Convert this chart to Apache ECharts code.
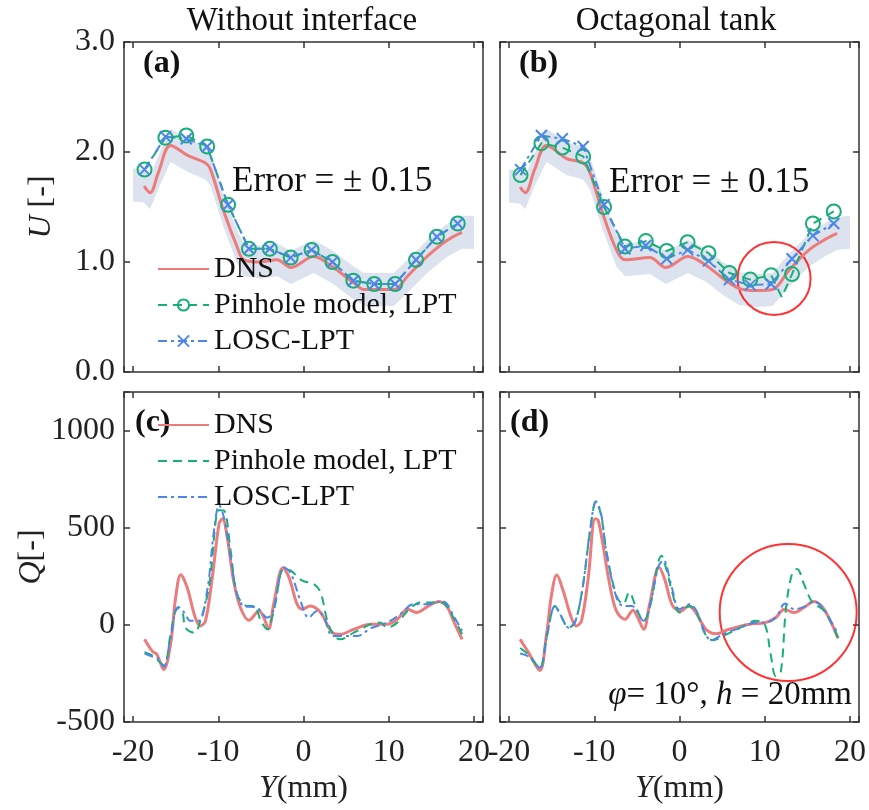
<!DOCTYPE html>
<html>
<head>
<meta charset="utf-8">
<script src="https://cdn.jsdelivr.net/npm/echarts@6/dist/echarts.min.js"></script>
<style>
  html, body { margin: 0; padding: 0; background: #fff; }
  #chart { width: 869px; height: 810px; }
</style>
</head>
<body>
<div id="chart"></div>
<script>
// --- data ---
const errU = 0.15

// (a) without interface, U
const dnsAX = [-18.7, -18.0, -17.0, -15.6, -13.6, -11.5, -10.9, -9.4, -7.8, -7.0, -5.0, -3.1, -1.5, 1.2, 3.5, 5.9, 7.1, 10.6, 12.2, 14.5, 16.9, 18.6]
const dnsAY = [1.69, 1.63, 1.82, 2.06, 1.97, 1.90, 1.84, 1.47, 1.14, 1.02, 1.00, 1.02, 0.95, 1.05, 0.95, 0.81, 0.75, 0.75, 0.87, 1.05, 1.20, 1.27]
const bandAX = [-20, -18.7, -18.0, -17.0, -15.6, -13.6, -11.5, -10.9, -9.4, -7.8, -7.0, -5.0, -3.1, -1.5, 1.2, 3.5, 5.9, 7.1, 10.6, 12.2, 14.5, 16.9, 18.6, 20]
const bandAY = [1.70, 1.69, 1.63, 1.82, 2.06, 1.97, 1.90, 1.84, 1.47, 1.14, 1.02, 1.00, 1.02, 0.95, 1.05, 0.95, 0.81, 0.75, 0.75, 0.87, 1.05, 1.20, 1.27, 1.27]
const markerX = [-18.65, -16.2, -13.75, -11.3, -8.85, -6.4, -3.95, -1.5, 0.95, 3.4, 5.85, 8.3, 10.75, 13.2, 15.65, 18.1]
const pinholeA = [1.84, 2.13, 2.15, 2.05, 1.52, 1.12, 1.12, 1.04, 1.11, 1.00, 0.83, 0.80, 0.80, 1.02, 1.23, 1.35]
const loscA = [1.84, 2.14, 2.12, 2.05, 1.52, 1.12, 1.12, 1.04, 1.11, 1.00, 0.83, 0.80, 0.80, 1.02, 1.23, 1.35]

// (b) octagonal tank, U
const dnsBX = [-18.7, -18.1, -17.0, -15.6, -13.25, -11.3, -10.5, -9.0, -7.4, -6.4, -3.5, -1.6, 1.0, 3.1, 5.1, 7.0, 9.0, 10.9, 12.9, 15.2, 17.2, 18.5]
const dnsBY = [1.68, 1.63, 1.84, 2.06, 1.94, 1.90, 1.81, 1.44, 1.11, 1.02, 1.04, 0.95, 1.05, 0.97, 0.85, 0.76, 0.74, 0.75, 0.93, 1.11, 1.21, 1.26]
const bandBX = [-20, -18.7, -18.1, -17.0, -15.6, -13.25, -11.3, -10.5, -9.0, -7.4, -6.4, -3.5, -1.6, 1.0, 3.1, 5.1, 7.0, 9.0, 10.9, 12.9, 15.2, 17.2, 18.5, 20]
const bandBY = [1.69, 1.68, 1.63, 1.84, 2.06, 1.94, 1.90, 1.81, 1.44, 1.11, 1.02, 1.04, 0.95, 1.05, 0.97, 0.85, 0.76, 0.74, 0.75, 0.93, 1.11, 1.21, 1.26, 1.27]
const pinholeB = [1.79, 2.08, 2.04, 1.96, 1.50, 1.14, 1.19, 1.10, 1.18, 1.08, 0.90, 0.84, 0.88, 0.89, 1.35, 1.46]
const pinholeBDipX = 12.0   // dip of the dashed line between two circles
const pinholeBDipY = 0.68
const loscB = [1.84, 2.15, 2.12, 2.05, 1.52, 1.12, 1.15, 1.03, 1.11, 1.01, 0.84, 0.79, 0.80, 1.03, 1.24, 1.35]
const circleB = [11.1, 0.85]

// (c) without interface, Q
const qDnsCX = [-18.65, -17.75, -17.2, -16.4, -15.6, -15.0, -14.4, -13.65, -12.7, -12.1, -11.5, -10.7, -9.9, -9.5, -8.95, -8.2, -7.4, -6.4, -5.2, -4.65, -4.1, -3.5, -2.4, -1.7, -0.75, -0.15, 0.8, 2.0, 3.4, 4.3, 5.9, 7.9, 9.8, 11.0, 12.2, 13.3, 14.5, 15.9, 16.85, 17.6, 18.6]
const qDnsCY = [-74, -135, -152, -230, -100, 141, 259, 193, 38, -5, 21, 245, 522, 547, 452, 228, 90, 24, 72, 38, -22, 107, 294, 245, 107, 81, 98, 64, -40, -48, -22, 4, 4, 29, 81, 64, 93, 121, 93, 21, -74]
const qPinCX = [-18.65, -17.75, -16.4, -15.6, -14.8, -14.2, -13.85, -12.8, -12.1, -11.1, -9.9, -9.35, -8.55, -7.8, -6.6, -5.8, -5.0, -4.25, -3.5, -2.3, -1.5, -0.15, 1.2, 2.0, 2.8, 3.6, 4.3, 5.9, 7.9, 9.0, 9.8, 11.0, 12.6, 13.75, 15.7, 16.6, 17.6, 18.6]
const qPinCY = [-140, -157, -206, -50, 84, 64, -14, -40, 21, 193, 591, 590, 383, 159, 98, 98, 21, -22, 72, 287, 280, 228, 211, 168, 21, -57, -74, -40, 4, 12, -14, 12, 90, 116, 116, 107, 38, -48]
const qLoscCX = [-18.65, -17.75, -17.1, -16.4, -15.6, -14.7, -14.0, -13.25, -12.3, -11.3, -10.5, -9.9, -9.35, -8.55, -7.8, -7.0, -5.5, -4.25, -3.5, -2.3, -1.5, -0.35, 0.6, 1.6, 2.4, 3.4, 4.3, 6.3, 7.9, 9.8, 11.35, 12.9, 14.5, 16.4, 17.6, 18.6]
const qLoscCY = [-147, -163, -172, -215, -66, 93, 64, 21, 21, 176, 487, 617, 556, 349, 159, 98, 90, 38, 81, 297, 266, 124, 38, 72, 38, -57, -57, -57, -17, 12, 55, 107, 107, 121, 47, -31]

// (d) octagonal tank, Q
const qDnsDX = [-18.7, -17.7, -16.4, -15.6, -15.0, -14.4, -13.65, -12.7, -12.1, -11.5, -10.7, -9.9, -9.55, -9.0, -8.2, -7.4, -6.4, -5.45, -4.9, -4.2, -3.5, -2.4, -1.75, -0.8, 0.2, 1.0, 1.8, 3.1, 4.3, 5.8, 8.2, 10.1, 11.3, 12.3, 13.45, 14.6, 15.8, 16.8, 17.7, 18.6]
const qDnsDY = [-74, -143, -235, -48, 159, 257, 176, 38, -5, 21, 245, 547, 539, 418, 211, 72, 29, 76, 38, -22, 107, 297, 237, 98, 72, 98, 72, -22, -45, -22, 4, 12, 38, 81, 64, 90, 121, 90, 21, -69]
const qPinDX = [-18.7, -17.7, -16.4, -15.6, -14.6, -14.0, -13.0, -12.2, -11.3, -10.5, -9.8, -9.2, -8.6, -7.4, -6.6, -5.9, -5.1, -4.2, -3.5, -2.1, -1.5, -0.8, 0.0, 1.2, 2.0, 3.0, 3.9, 5.1, 7.0, 9.0, 10.0, 10.7, 11.3, 11.9, 12.5, 13.25, 13.8, 14.6, 15.6, 16.8, 17.5, 18.6]
const qPinDY = [-119, -154, -220, -66, 98, 55, -14, 21, 211, 480, 633, 565, 383, 150, 107, 168, 90, 21, 90, 357, 280, 159, 64, 98, 64, -45, -79, -57, -17, 21, 4, -152, -264, -238, 90, 271, 288, 211, 116, 81, 38, -66]
const qLoscDX = [-18.7, -17.7, -16.4, -15.6, -14.6, -14.0, -13.0, -12.2, -11.3, -10.5, -9.8, -9.2, -8.6, -7.4, -6.6, -5.6, -4.2, -3.5, -2.5, -1.9, -0.9, 0.0, 1.2, 2.0, 2.9, 3.7, 5.1, 7.0, 9.0, 10.1, 11.3, 12.4, 13.45, 14.6, 15.8, 16.8, 17.5, 18.6]
const qLoscDY = [-147, -163, -220, -66, 98, 55, -14, 21, 211, 487, 637, 573, 383, 141, 98, 98, 21, 90, 297, 335, 193, 81, 107, 72, -31, -79, -48, -17, 12, 12, 38, 110, 81, 93, 121, 90, 38, -45]
const circleD = [12.75, 64]

const xTicks = [-20, -10, 0, 10, 20]
const uTicks = [0, 1, 2, 3]
const qTicks = [-500, 0, 500, 1000]

// --- styling ---
const font = 'Liberation Serif'
const red = '#ec7b7b'
const green = '#17ae78'
const blue = '#4c86e9'
const bandColor = '#dce3ee'
const axisColor = '#333'

const chart = echarts.init(document.getElementById('chart'))

const pairs = (xs, ys) => xs.map((x, i) => [x, ys[i]])

const grids = [
  { left: 124, top: 42, width: 359, height: 330 },
  { left: 500, top: 42, width: 359, height: 330 },
  { left: 124, top: 392, width: 359, height: 330 },
  { left: 500, top: 392, width: 359, height: 330 }
]

const labelStyle = { fontFamily: font, fontSize: 32, color: '#222' }

function xAxis(gridIndex, position, showLabel, name) {
  return {
    type: 'value', gridIndex, position, min: -21.06, max: 21.06, splitNumber: 4,
    axisLine: { show: true, onZero: false, lineStyle: { color: axisColor, width: 1.5 } },
    axisTick: { show: true, inside: true, length: 6, lineStyle: { color: axisColor, width: 1.5 } },
    splitLine: { show: false },
    axisLabel: {
      show: showLabel, margin: 15, ...labelStyle,
      formatter: v => (xTicks.includes(v) ? String(v) : '')
    },
    name: name || '', nameLocation: 'middle', nameGap: 51,
    nameTextStyle: { ...labelStyle, rich: { i: { ...labelStyle, fontStyle: 'italic' } } }
  }
}

function yAxis(gridIndex, position, showLabel, isU, name) {
  return {
    type: 'value', gridIndex, position,
    min: isU ? 0 : -500, max: isU ? 3 : 1200, interval: isU ? 1 : 500,
    axisLine: { show: true, onZero: false, lineStyle: { color: axisColor, width: 1.5 } },
    axisTick: { show: true, inside: true, length: 6, lineStyle: { color: axisColor, width: 1.5 } },
    splitLine: { show: false },
    axisLabel: {
      show: showLabel, margin: 9, ...labelStyle,
      formatter: v => {
        const ticks = isU ? uTicks : qTicks
        if (!ticks.includes(v)) return ''
        return isU ? v.toFixed(1) : String(v)
      }
    },
    name: name || '', nameLocation: 'middle', nameGap: 66, nameRotate: 90,
    nameTextStyle: { ...labelStyle, rich: { i: { ...labelStyle, fontStyle: 'italic' } } }
  }
}

function band(idx, xs, mids) {
  return {
    type: 'custom', xAxisIndex: idx, yAxisIndex: idx, silent: true,
    data: pairs(xs, mids),
    renderItem(params, api) {
      if (params.dataIndex !== 0) return null
      const upper = xs.map((x, i) => api.coord([x, mids[i] + errU]))
      const lower = xs.map((x, i) => api.coord([x, mids[i] - errU])).reverse()
      return { type: 'polygon', shape: { points: upper.concat(lower) }, style: { fill: bandColor } }
    }
  }
}

function dnsLine(idx, name, xs, ys) {
  return {
    type: 'line', name, xAxisIndex: idx, yAxisIndex: idx, data: pairs(xs, ys),
    smooth: 0.35, symbol: 'none', lineStyle: { color: red, width: 3 }, itemStyle: { color: red }
  }
}

const crossPath = 'path://M0,0L10,10M10,0L0,10'

function pinholeLine(idx, name, data, marked) {
  const s = {
    type: 'line', name, xAxisIndex: idx, yAxisIndex: idx, data,
    lineStyle: { color: green, width: 2, type: [9, 6] },
    itemStyle: { color: green }
  }
  if (marked) {
    Object.assign(s, {
      symbol: 'circle', symbolSize: 14, showAllSymbol: true,
      itemStyle: { color: 'rgba(255,255,255,0)', borderColor: green, borderWidth: 2 }
    })
  } else {
    Object.assign(s, { smooth: 0.35, symbol: 'none' })
  }
  return s
}

function loscLine(idx, name, data, marked) {
  const s = {
    type: 'line', name, xAxisIndex: idx, yAxisIndex: idx, data,
    lineStyle: { color: blue, width: 2, type: [9, 4, 3, 4] },
    itemStyle: { color: blue }
  }
  if (marked) {
    Object.assign(s, {
      symbol: crossPath, symbolSize: 11, showAllSymbol: true,
      itemStyle: { color: 'rgba(255,255,255,0)', borderColor: blue, borderWidth: 2 }
    })
  } else {
    Object.assign(s, { smooth: 0.35, symbol: 'none' })
  }
  return s
}

function ring(idx, point, size) {
  return {
    type: 'scatter', xAxisIndex: idx, yAxisIndex: idx, silent: true, data: [point],
    symbol: 'circle', symbolSize: size,
    itemStyle: { color: 'rgba(255,255,255,0)', borderColor: '#ff0000', borderWidth: 2 }
  }
}

// pinhole (b): circles plus one unmarked dip point
const pinBData = pairs(markerX, pinholeB)
const dipAt = markerX.findIndex(x => x > pinholeBDipX)
pinBData.splice(dipAt, 0, { value: [pinholeBDipX, pinholeBDipY], symbol: 'none' })

const names = ['DNS', 'Pinhole model, LPT', 'LOSC-LPT']
const namesQ = names.map(n => n + ' ')   // separate legend entries for the Q panels

// plain lines in the legend: hide the symbol for series without markers
const noMark = { opacity: 0 }
const legendTop = [{ name: names[0], itemStyle: noMark }, { name: names[1] }, { name: names[2] }]
const legendBottom = namesQ.map(n => ({ name: n, itemStyle: noMark }))

const legendText = { fontFamily: font, fontSize: 30, color: '#111', lineHeight: 30 }

const titleText = { fontFamily: font, fontSize: 33, fontWeight: 'normal', color: '#111' }
const tagStyle = { fontFamily: font, fontSize: 32, fontWeight: 'bold', fill: '#111', verticalAlign: 'middle' }

const option = {
  animation: false,
  backgroundColor: '#fff',
  title: [
    { text: 'Without interface', left: 297, top: 0, textAlign: 'center', textStyle: titleText },
    { text: 'Octagonal tank', left: 671, top: 0, textAlign: 'center', textStyle: titleText }
  ],
  grid: grids,
  xAxis: [
    xAxis(0, 'bottom', false), xAxis(1, 'bottom', false),
    xAxis(2, 'bottom', true, '{i|Y}(mm)'), xAxis(3, 'bottom', true, '{i|Y}(mm)'),
    xAxis(0, 'top', false), xAxis(1, 'top', false), xAxis(2, 'top', false), xAxis(3, 'top', false)
  ],
  yAxis: [
    yAxis(0, 'left', true, true, '{i|U} [-]'), yAxis(1, 'left', false, true),
    yAxis(2, 'left', true, false, '{i|Q}[-]'), yAxis(3, 'left', false, false),
    yAxis(0, 'right', false, true), yAxis(1, 'right', false, true),
    yAxis(2, 'right', false, false), yAxis(3, 'right', false, false)
  ],
  legend: [
    {
      data: legendTop, orient: 'vertical', left: 152, top: 249, itemWidth: 51, itemHeight: 14,
      itemGap: 6, selectedMode: false, textStyle: legendText
    },
    {
      data: legendBottom, orient: 'vertical', left: 152, top: 405, itemWidth: 51, itemHeight: 14,
      itemGap: 6, selectedMode: false, textStyle: legendText
    }
  ],
  series: [
    band(0, bandAX, bandAY),
    dnsLine(0, names[0], dnsAX, dnsAY),
    pinholeLine(0, names[1], pairs(markerX, pinholeA), true),
    loscLine(0, names[2], pairs(markerX, loscA), true),

    band(1, bandBX, bandBY),
    dnsLine(1, names[0], dnsBX, dnsBY),
    pinholeLine(1, names[1], pinBData, true),
    loscLine(1, names[2], pairs(markerX, loscB), true),
    ring(1, circleB, 73),

    dnsLine(2, namesQ[0], qDnsCX, qDnsCY),
    pinholeLine(2, namesQ[1], pairs(qPinCX, qPinCY), false),
    loscLine(2, namesQ[2], pairs(qLoscCX, qLoscCY), false),

    dnsLine(3, namesQ[0], qDnsDX, qDnsDY),
    pinholeLine(3, namesQ[1], pairs(qPinDX, qPinDY), false),
    loscLine(3, namesQ[2], pairs(qLoscDX, qLoscDY), false),
    ring(3, circleD, 137)
  ],
  graphic: [
    { type: 'text', x: 143, y: 64, style: { text: '(a)', ...tagStyle } },
    { type: 'text', x: 519, y: 64, style: { text: '(b)', ...tagStyle } },
    { type: 'text', x: 135, y: 423, style: { text: '(c)', ...tagStyle } },
    { type: 'text', x: 510, y: 423, style: { text: '(d)', ...tagStyle } },
    { type: 'text', x: 232, y: 182, style: { text: 'Error = \u00b1 0.15', fontFamily: font, fontSize: 35, fill: '#111', verticalAlign: 'middle' } },
    { type: 'text', x: 609, y: 183, style: { text: 'Error = \u00b1 0.15', fontFamily: font, fontSize: 35, fill: '#111', verticalAlign: 'middle' } },
    {
      type: 'text', x: 852, y: 695,
      style: {
        text: '{i|\u03c6}= 10\u00b0, {i|h} = 20mm', fontFamily: font, fontSize: 33, fill: '#111',
        align: 'right', verticalAlign: 'middle',
        rich: { i: { fontFamily: font, fontSize: 33, fontStyle: 'italic', fill: '#111' } }
      }
    }
  ]
}

chart.setOption(option)
</script>
</body>
</html>
